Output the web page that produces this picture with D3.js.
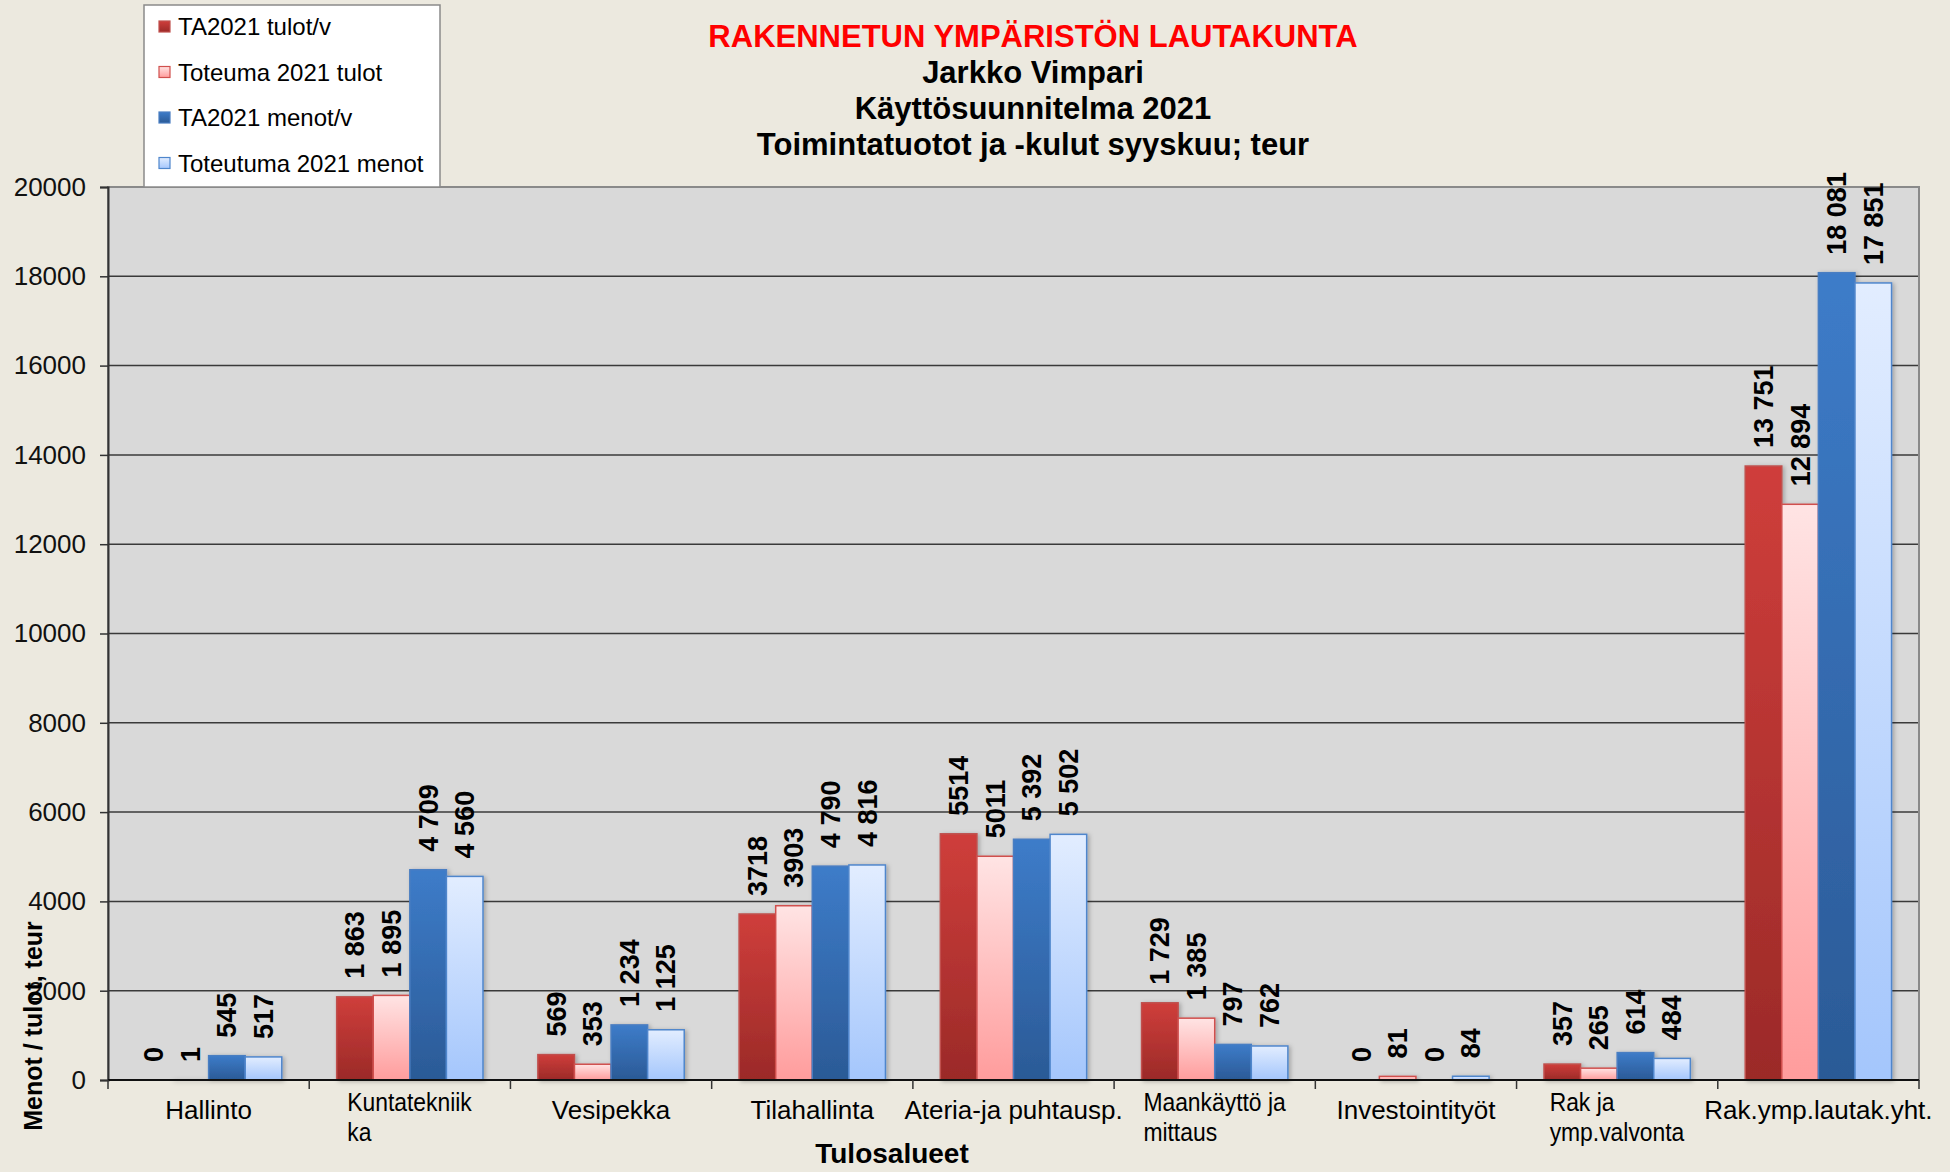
<!DOCTYPE html>
<html>
<head>
<meta charset="utf-8">
<script src="https://cdn.jsdelivr.net/npm/d3@7/dist/d3.min.js"></script>
<style>
  body { margin: 0; background: #ECE9DF; }
  svg { display: block; font-family: Arial, "Liberation Sans", sans-serif; }
</style>
</head>
<body>
<script>
// chart data
var categories = ["Hallinto", "Kuntatekniikka", "Vesipekka", "Tilahallinta", "Ateria-ja puhtausp.",
  "Maankäyttö ja mittaus", "Investointityöt", "Rak ja ymp.valvonta", "Rak.ymp.lautak.yht."];
var categoryLines = [["Hallinto"], ["Kuntatekniik", "ka"], ["Vesipekka"], ["Tilahallinta"], ["Ateria-ja puhtausp."],
  ["Maankäyttö ja", "mittaus"], ["Investointityöt"], ["Rak ja", "ymp.valvonta"], ["Rak.ymp.lautak.yht."]];
var seriesNames = ["TA2021 tulot/v", "Toteuma 2021 tulot", "TA2021 menot/v", "Toteutuma 2021 menot"];

var taTulot   = [0, 1863, 569, 3718, 5514, 1729, 0, 357, 13751];
var totTulot  = [1, 1895, 353, 3903, 5011, 1385, 81, 265, 12894];
var taMenot   = [545, 4709, 1234, 4790, 5392, 797, 0, 614, 18081];
var totMenot  = [517, 4560, 1125, 4816, 5502, 762, 84, 484, 17851];

var taTulotLbl  = ["0", "1 863", "569", "3718", "5514", "1 729", "0", "357", "13 751"];
var totTulotLbl = ["1", "1 895", "353", "3903", "5011", "1 385", "81", "265", "12 894"];
var taMenotLbl  = ["545", "4 709", "1 234", "4 790", "5 392", "797", "0", "614", "18 081"];
var totMenotLbl = ["517", "4 560", "1 125", "4 816", "5 502", "762", "84", "484", "17 851"];

var yTicks = [0, 2000, 4000, 6000, 8000, 10000, 12000, 14000, 16000, 18000, 20000];

var titleLines = ["RAKENNETUN YMPÄRISTÖN LAUTAKUNTA", "Jarkko Vimpari", "Käyttösuunnitelma 2021",
  "Toimintatuotot ja -kulut syyskuu; teur"];

var width = 1950, height = 1172;
var plot = { left: 108, top: 187, right: 1919, bottom: 1080 };

var seriesValues = [taTulot, totTulot, taMenot, totMenot];
var seriesLabels = [taTulotLbl, totTulotLbl, taMenotLbl, totMenotLbl];
var gradStops = [["#cf3e3b", "#9b2a28"], ["#ffe4e4", "#ff9c9c"], ["#3d7cc9", "#2b5a96"], ["#e2edff", "#a4c6fc"]];
var strokes = ["#c0504d", "#d0504e", "#4a7ec2", "#4f86cc"];

var svg = d3.select("body").append("svg")
  .attr("width", width)
  .attr("height", height)
  .style("background", "#ECE9DF");

var defs = svg.append("defs");
gradStops.forEach(function(c, i) {
  var g = defs.append("linearGradient")
    .attr("id", "grad" + i)
    .attr("x1", 0).attr("y1", 0).attr("x2", 0).attr("y2", 1);
  g.append("stop").attr("offset", "0%").attr("stop-color", c[0]);
  g.append("stop").attr("offset", "100%").attr("stop-color", c[1]);
});
var shadow = defs.append("filter").attr("id", "shadow")
  .attr("x", "-20%").attr("y", "-5%").attr("width", "140%").attr("height", "110%");
shadow.append("feDropShadow")
  .attr("dx", 2).attr("dy", 1).attr("stdDeviation", 2)
  .attr("flood-color", "#000").attr("flood-opacity", 0.25);

var y = d3.scaleLinear().domain([0, 20000]).range([plot.bottom, plot.top]);
var x0 = d3.scaleBand().domain(categories).range([plot.left, plot.right]).padding(0);
var barW = x0.step() / 5.5;
var groupOffset = (x0.step() - 4 * barW) / 2;

// plot background
svg.append("rect")
  .attr("x", plot.left).attr("y", plot.top)
  .attr("width", plot.right - plot.left).attr("height", plot.bottom - plot.top)
  .attr("fill", "#D9D9D9");

// gridlines
svg.append("g").selectAll("line")
  .data(yTicks.filter(function(d) { return d > 0 && d < 20000; }))
  .enter().append("line")
  .attr("x1", plot.left).attr("x2", plot.right)
  .attr("y1", function(d) { return y(d); })
  .attr("y2", function(d) { return y(d); })
  .attr("stroke", "#3a3a3a")
  .attr("stroke-width", 1.5);

// plot border
svg.append("rect")
  .attr("x", plot.left).attr("y", plot.top)
  .attr("width", plot.right - plot.left).attr("height", plot.bottom - plot.top)
  .attr("fill", "none")
  .attr("stroke", "#8a8a8a")
  .attr("stroke-width", 2);

// bars
var barData = [];
seriesValues.forEach(function(vals, s) {
  vals.forEach(function(v, i) {
    barData.push({ s: s, cat: categories[i], value: v, label: seriesLabels[s][i] });
  });
});

function barX(d) { return x0(d.cat) + groupOffset + d.s * barW; }

svg.append("g").attr("filter", "url(#shadow)")
  .selectAll("rect")
  .data(barData.filter(function(d) { return d.value > 0; }))
  .enter().append("rect")
  .attr("x", barX)
  .attr("y", function(d) { return y(d.value); })
  .attr("width", barW)
  .attr("height", function(d) { return y(0) - y(d.value); })
  .attr("fill", function(d) { return "url(#grad" + d.s + ")"; })
  .attr("stroke", function(d) { return strokes[d.s]; })
  .attr("stroke-width", 1.5);

// data labels
svg.append("g").selectAll("text")
  .data(barData)
  .enter().append("text")
  .attr("transform", function(d) {
    return "translate(" + (barX(d) + barW / 2) + "," + (y(d.value) - 18) + ") rotate(-90)";
  })
  .attr("dy", "0.35em")
  .attr("font-size", 27)
  .attr("font-weight", "bold")
  .attr("fill", "#000")
  .text(function(d) { return d.label; });

// y axis
var yAxis = d3.axisLeft(y).tickValues(yTicks).tickSize(8).tickPadding(14).tickFormat(d3.format("d"));
var yg = svg.append("g").attr("transform", "translate(" + plot.left + ",0)").call(yAxis);
yg.select(".domain").attr("stroke", "#333").attr("stroke-width", 2);
yg.selectAll(".tick line").attr("stroke", "#333").attr("stroke-width", 1.5);
yg.selectAll(".tick text").attr("font-size", 26).attr("font-family", "Arial, 'Liberation Sans', sans-serif").attr("fill", "#111");

// x axis line and category ticks
svg.append("line")
  .attr("x1", plot.left).attr("x2", plot.right)
  .attr("y1", y(0)).attr("y2", y(0))
  .attr("stroke", "#111").attr("stroke-width", 2);
svg.append("g").selectAll("line")
  .data(categories.concat(["end"]))
  .enter().append("line")
  .attr("x1", function(d, i) { return plot.left + i * x0.step(); })
  .attr("x2", function(d, i) { return plot.left + i * x0.step(); })
  .attr("y1", y(0)).attr("y2", y(0) + 9)
  .attr("stroke", "#333").attr("stroke-width", 1.5);

// category labels
var catG = svg.append("g").selectAll("g")
  .data(categoryLines)
  .enter().append("g")
  .attr("transform", function(d, i) {
    var cx = x0(categories[i]) + x0.bandwidth() / 2;
    return "translate(" + cx + ",0)";
  });
catG.each(function(lines) {
  var g = d3.select(this);
  if (lines.length === 1) {
    g.append("text")
      .attr("x", 0).attr("y", 1119)
      .attr("text-anchor", "middle")
      .attr("font-size", 26)
      .text(lines[0]);
  } else {
    var t = g.append("text")
      .attr("font-size", 26)
      .attr("transform", "scale(0.88,1)");
    lines.forEach(function(l, k) {
      t.append("tspan").attr("x", 0).attr("y", 1111 + k * 30).text(l);
    });
    var w = t.node().getBBox().width;
    t.selectAll("tspan").attr("x", -w / 2);
  }
});

// axis titles
svg.append("text")
  .attr("x", 892).attr("y", 1163)
  .attr("text-anchor", "middle")
  .attr("font-size", 28).attr("font-weight", "bold")
  .text("Tulosalueet");

svg.append("text")
  .attr("transform", "translate(42,1026) rotate(-90)")
  .attr("text-anchor", "middle")
  .attr("font-size", 25).attr("font-weight", "bold")
  .text("Menot / tulot, teur");

// title
svg.append("g").selectAll("text")
  .data(titleLines)
  .enter().append("text")
  .attr("x", 1033)
  .attr("y", function(d, i) { return 47 + i * 36; })
  .attr("text-anchor", "middle")
  .attr("font-size", 31).attr("font-weight", "bold")
  .attr("fill", function(d, i) { return i === 0 ? "#FF0000" : "#000"; })
  .text(function(d) { return d; });

// legend
var legend = svg.append("g");
legend.append("rect")
  .attr("x", 144).attr("y", 5)
  .attr("width", 296).attr("height", 182)
  .attr("fill", "#fff").attr("stroke", "#8a8a8a").attr("stroke-width", 1.5);
var items = legend.selectAll("g.item")
  .data(seriesNames)
  .enter().append("g")
  .attr("class", "item")
  .attr("transform", function(d, i) { return "translate(159," + (27 + i * 45.5) + ")"; });
items.append("rect")
  .attr("x", 0).attr("y", -6)
  .attr("width", 11).attr("height", 11)
  .attr("fill", function(d, i) { return "url(#grad" + i + ")"; })
  .attr("stroke", function(d, i) { return strokes[i]; })
  .attr("stroke-width", 1.2);
items.append("text")
  .attr("x", 19).attr("y", 8)
  .attr("font-size", 24)
  .text(function(d) { return d; });
</script>
</body>
</html>
